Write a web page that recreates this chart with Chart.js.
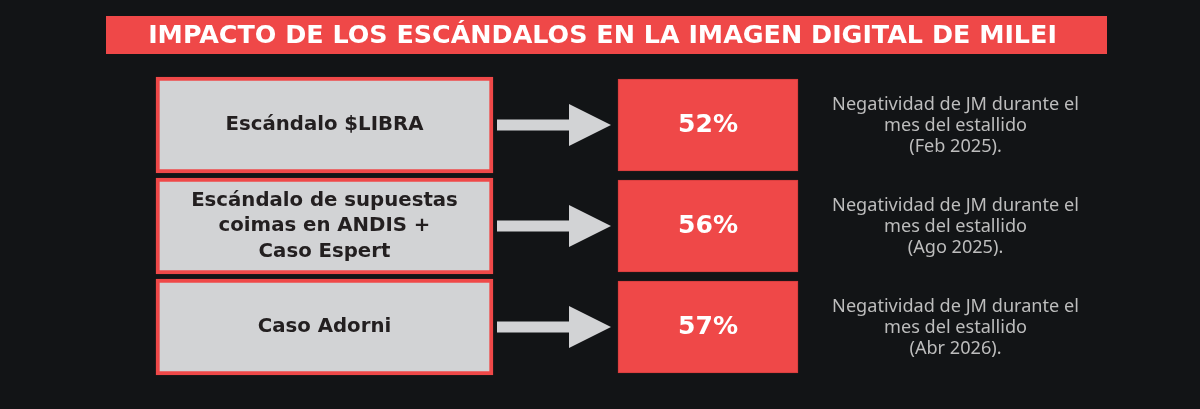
<!DOCTYPE html>
<html>
<head>
<meta charset="utf-8">
<script src="https://cdn.jsdelivr.net/npm/chart.js@4.4.1/dist/chart.umd.min.js"></script>
<style>
  html, body { margin: 0; padding: 0; background: #121416; }
  canvas { display: block; }
</style>
</head>
<body>
<canvas id="impactChart" width="1200" height="409"></canvas>
<script>
// ----------------- DATA -----------------
const title = "IMPACTO DE LOS ESCÁNDALOS EN LA IMAGEN DIGITAL DE MILEI";
const events = [
    ["Escándalo $LIBRA"],
    ["Escándalo de supuestas", "coimas en ANDIS +", "Caso Espert"],
    ["Caso Adorni"]
];
const negativity = [52, 56, 57];
const periods = ["Feb 2025", "Ago 2025", "Abr 2026"];
const noteLines = ["Negatividad de JM durante el", "mes del estallido"];

// ----------------- LAYOUT / STYLE -----------------
const BG = "#121416";
const RED = "#ef4848";
const GREY = "#d2d3d5";
const DARK = "#231f20";
const NOTE = "#bdbdbd";
const eventBox = [156, 493];
const valueBox = [618, 798];
const noteX = 955.5;

const ctx = document.getElementById("impactChart").getContext("2d");

// pick font sizes so text widths match the original
function fitSize(text, font, target){
    ctx.font = font.replace("SIZE", "100px");
    return 100 * target / ctx.measureText(text).width;
}
const BOLD = "700 SIZE 'DejaVu Sans'";
const LIGHT = "400 SIZE 'Noto Sans'";
const titleSize = fitSize(title, BOLD, 909);
const eventSize = fitSize(events[0][0], BOLD, 198);
const valueSize = fitSize("52%", BOLD, 60);
const noteSize = fitSize(noteLines[0], LIGHT, 247);

const decor = {
    id: "decor",
    beforeDraw(chart){
        const c = chart.ctx;
        c.save();
        c.fillStyle = BG;
        c.fillRect(0, 0, chart.width, chart.height);
        // title bar
        c.fillStyle = RED;
        c.fillRect(106, 16, 1001, 38);
        c.fillStyle = "#ffffff";
        c.font = BOLD.replace("SIZE", titleSize + "px");
        c.textAlign = "center";
        c.textBaseline = "middle";
        c.fillText(title, 602.5, 36);
        c.restore();
    },
    afterDatasetsDraw(chart){
        const c = chart.ctx;
        const evMeta = chart.getDatasetMeta(0).data;
        const valMeta = chart.getDatasetMeta(1).data;
        c.save();
        c.textAlign = "center";
        c.textBaseline = "middle";
        events.forEach((lines, i) => {
            const ev = evMeta[i], val = valMeta[i];
            const y = ev.y;

            // event label
            c.fillStyle = DARK;
            c.font = BOLD.replace("SIZE", eventSize + "px");
            const lh = 25.5;
            lines.forEach((t, j) => {
                c.fillText(t, (ev.x + ev.base) / 2, y + (j - (lines.length - 1) / 2) * lh);
            });

            // arrow
            const x0 = Math.max(ev.x, ev.base) + 4;
            const tip = Math.min(val.x, val.base) - 7;
            const headBase = tip - 42;
            c.fillStyle = GREY;
            c.beginPath();
            c.moveTo(x0, y - 5.5);
            c.lineTo(headBase, y - 5.5);
            c.lineTo(headBase, y - 21);
            c.lineTo(tip, y);
            c.lineTo(headBase, y + 21);
            c.lineTo(headBase, y + 5.5);
            c.lineTo(x0, y + 5.5);
            c.closePath();
            c.fill();

            // value
            c.fillStyle = "#ffffff";
            c.font = BOLD.replace("SIZE", valueSize + "px");
            c.fillText(negativity[i] + "%", (val.x + val.base) / 2, val.y);

            // note
            c.fillStyle = NOTE;
            c.font = LIGHT.replace("SIZE", noteSize + "px");
            const notes = noteLines.concat(["(" + periods[i] + ")."]);
            notes.forEach((t, j) => {
                c.fillText(t, noteX, y + 1 + (j - 1) * 21);
            });
        });
        c.restore();
    }
};

new Chart(ctx, {
    type: "bar",
    data: {
        labels: events.map(l => l.join(" ")),
        datasets: [{
            label: "Escándalo",
            data: events.map(() => eventBox),
            backgroundColor: GREY,
            borderColor: RED,
            borderWidth: 4,
            borderSkipped: false,
            barThickness: 96,
            grouped: false
        }, {
            label: "Negatividad",
            data: negativity.map(() => valueBox),
            backgroundColor: RED,
            borderColor: "#d43d3d",
            borderWidth: 1,
            borderSkipped: false,
            barThickness: 92,
            grouped: false
        }]
    },
    options: {
        indexAxis: "y",
        responsive: false,
        animation: false,
        devicePixelRatio: 1,
        layout: { padding: { top: 74.5, bottom: 31.5, left: 0, right: 0 } },
        plugins: { legend: { display: false }, tooltip: { enabled: false }, title: { display: false } },
        scales: {
            x: { type: "linear", min: 0, max: 1200, display: false },
            y: { display: false, offset: true, grid: { display: false } }
        }
    },
    plugins: [decor]
});
</script>
</body>
</html>
